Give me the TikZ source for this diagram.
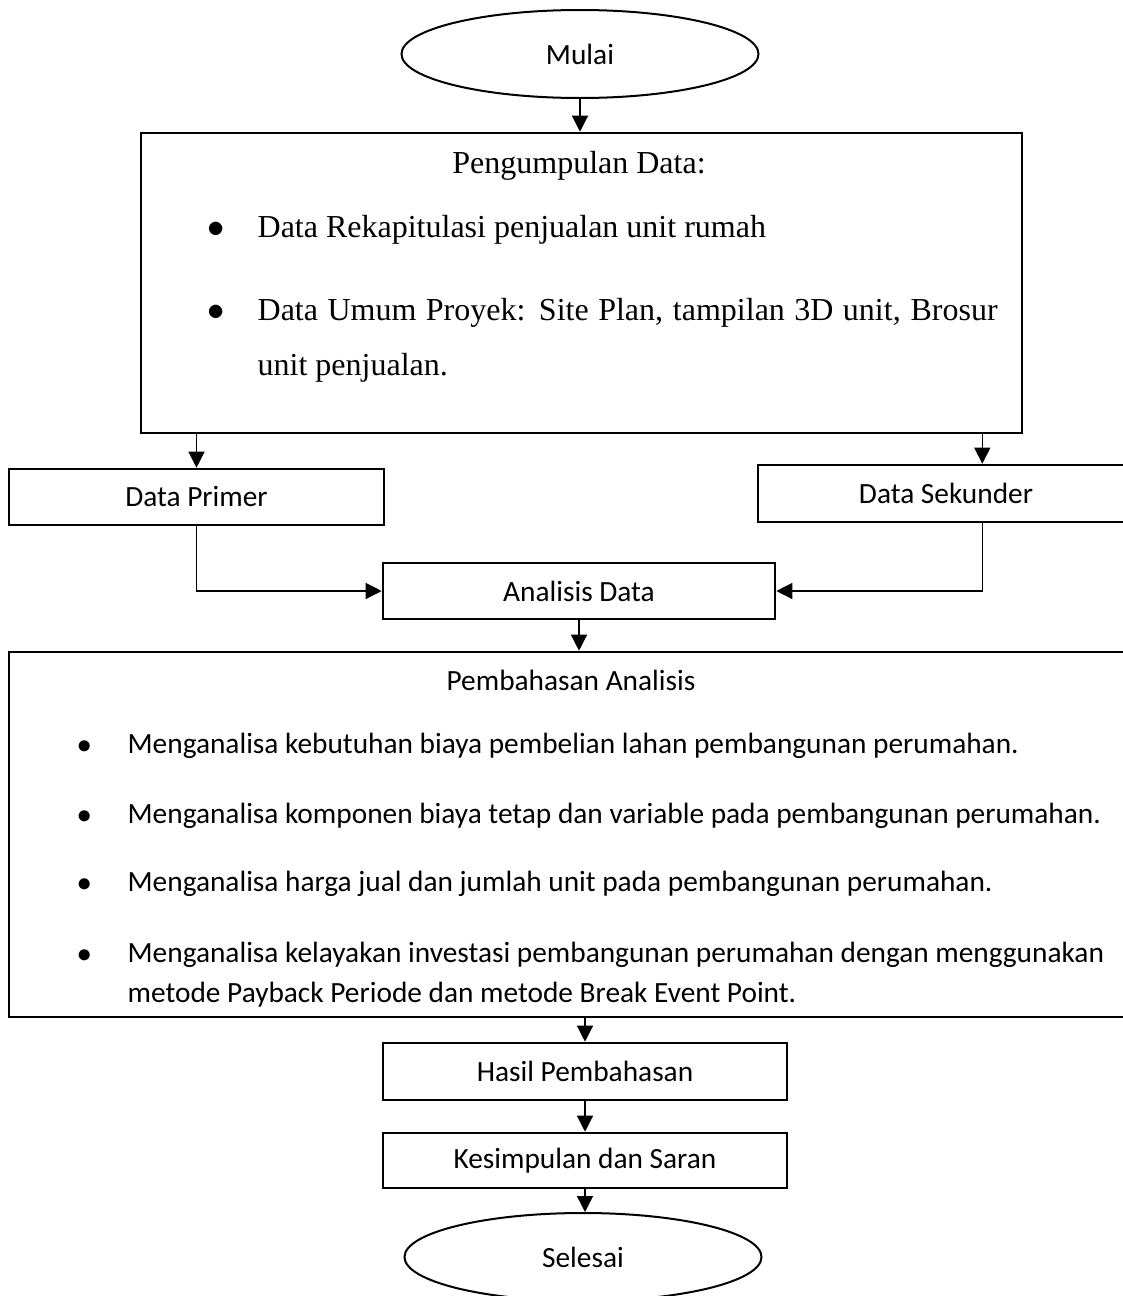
\documentclass[tikz,border=0pt]{standalone}
\usepackage{fontspec}
\setmainfont{Liberation Serif}
\newfontfamily\calibri{Carlito}
\usetikzlibrary{shapes.geometric,arrows.meta,calc,positioning}

\begin{document}
\begin{tikzpicture}
	[x=0.5pt,y=-0.5pt,line width=0.65pt,
	 every node/.style={font=\calibri\fontsize{14.67}{20}\selectfont},
	 terminal/.style={shape=ellipse,draw,line width=1pt,minimum width=178.5pt,minimum height=44pt},
	 kotak/.style={shape=rectangle,draw,line width=1.3pt},
	 teks/.style={inner sep=0pt,anchor=base west},
	 judul/.style={inner sep=0pt,anchor=base},
	 times/.style={font=\rmfamily\fontsize{16}{27.5}\selectfont},
	 panah/.style={-{Triangle[length=8pt,width=8pt]}}]
	\useasboundingbox (0,0) rectangle (1123,1296);
	\clip (0,0) rectangle (1123,1296);

	% awal dan pengumpulan data
	\node[terminal] (mulai) at (580,54) {Mulai};
	\node[kotak,minimum width=440.5pt,minimum height=150pt] (kumpul) at (581.5,283) {};
	\node[judul,times] (kjudul) at (579,173) {Pengumpulan Data:};
	\node[judul,times] (kb1) at (216,237) {$\bullet$};
	\node[teks,times] (k1) at (257,237) {Data Rekapitulasi penjualan unit rumah};
	\node[judul,times] (kb2) at (216,320) {$\bullet$};
	\node[teks,times,text width=370pt,align=justify] (k2) at (257,320)
		{Data Umum Proyek: Site Plan, tampilan 3D unit, Brosur unit penjualan.};

	% jenis data
	\node[kotak,minimum width=187.5pt,minimum height=28pt] (primer) at (196.5,497) {Data Primer};
	\node[kotak,minimum width=188pt,minimum height=28.5pt] (sekunder) at (946,493.5) {Data Sekunder};
	\node[kotak,minimum width=196pt,minimum height=28pt] (analisis) at (579,591) {Analisis Data};

	% pembahasan
	\node[kotak,minimum width=563pt,minimum height=182.5pt] (bahas) at (572,834.5) {};
	\node[judul] (bjudul) at (571,690) {Pembahasan Analisis};
	\foreach \i/\yb/\isi in {1/753/{Menganalisa kebutuhan biaya pembelian lahan pembangunan perumahan.},
		2/823/{Menganalisa komponen biaya tetap dan variable pada pembangunan perumahan.},
		3/891/{Menganalisa harga jual dan jumlah unit pada pembangunan perumahan.},
		4/962/{Menganalisa kelayakan investasi pembangunan perumahan dengan menggunakan metode Payback Periode dan metode Break Event Point.}}
	{
		\node[judul] (bb\i) at (85,\yb) {$\bullet$};
		\node[teks,text width=500pt,align=flush left] (b\i) at (127,\yb) {\isi};
	}

	% hasil dan akhir
	\node[kotak,minimum width=202pt,minimum height=28.5pt] (hasil) at (585,1071.5) {Hasil Pembahasan};
	\node[kotak,minimum width=202pt,minimum height=27.5pt] (simpul) at (585,1160.5) {Kesimpulan dan Saran};
	\node[terminal] (selesai) at (583,1257) {Selesai};

	\coordinate (ka) at ([xshift=-20.5pt]kumpul.south east);
	\draw[panah] (mulai.south) -- (mulai.south |- kumpul.north);
	\draw[panah] (primer.north |- kumpul.south) -- (primer.north);
	\draw[panah] (ka) -- (ka |- sekunder.north);
	\draw[panah] (primer.south) |- (analisis.west);
	\draw[panah] (ka |- sekunder.south) |- (analisis.east);
	\draw[panah] (analisis.south) -- (analisis.south |- bahas.north);
	\draw[panah] (hasil.north |- bahas.south) -- (hasil.north);
	\draw[panah] (hasil.south) -- (simpul.north);
	\draw[panah] (simpul.south) -- (simpul.south |- selesai.north);
\end{tikzpicture}
\end{document}
